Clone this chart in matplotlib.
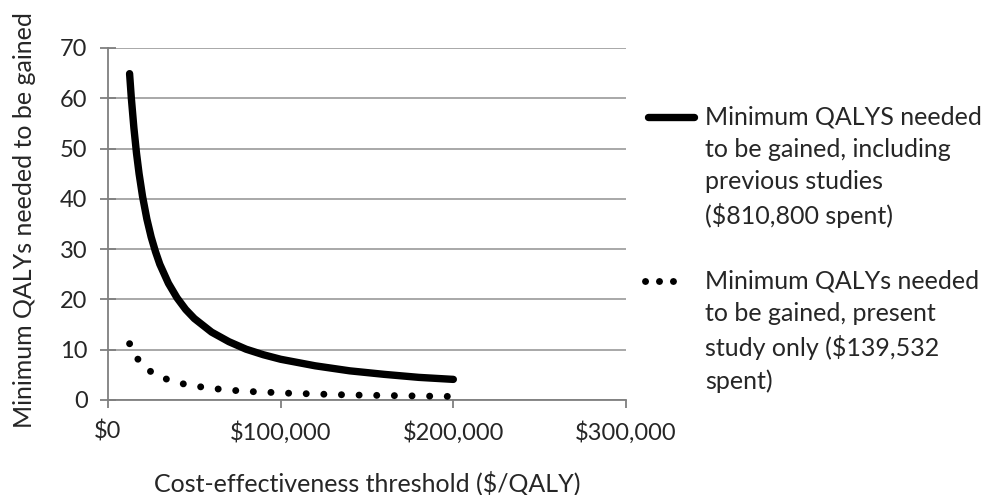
import matplotlib.pyplot as plt
from matplotlib.lines import Line2D
from matplotlib.ticker import StrMethodFormatter

# Valores (umbral en $/QALY)
thresholds = [12500, 13500, 15000, 16500, 18000, 20000, 22500, 25000, 27500, 30000,
              35000, 40000, 45000, 50000, 60000, 70000, 80000, 90000, 100000,
              120000, 140000, 160000, 180000, 200000]
qalys_previous = [64.9, 60.1, 54.1, 49.1, 45.0, 40.5, 36.0, 32.4, 29.5, 27.0,
                  23.2, 20.3, 18.0, 16.2, 13.5, 11.6, 10.1, 9.0, 8.1,
                  6.8, 5.8, 5.1, 4.5, 4.1]
qalys_present = [11.2, 10.3, 9.3, 8.5, 7.8, 7.0, 6.2, 5.6, 5.1, 4.7,
                 4.0, 3.5, 3.1, 2.8, 2.3, 2.0, 1.7, 1.6, 1.4,
                 1.2, 1.0, 0.9, 0.8, 0.7]

label_previous = "Minimum QALYS needed\nto be gained, including\nprevious studies\n($810,800 spent)"
label_present = "Minimum QALYs needed\nto be gained, present\nstudy only ($139,532\nspent)"
ylabel = "Minimum QALYs needed to be gained"
xlabel = "Cost-effectiveness threshold ($/QALY)"

plt.rcParams['font.family'] = ['Lato', 'DejaVu Sans']
text_color = '#262626'
axis_color = '#7f7f7f'

fig = plt.figure(figsize=(9.89, 4.95), dpi=100)
ax = fig.add_axes([108 / 989, 1 - 400 / 495, (626 - 108) / 989, (400 - 48) / 495])

ax.plot(thresholds, qalys_previous, color='black', lw=5.3, solid_capstyle='round', zorder=3)
ax.plot(thresholds, qalys_present, color='black', lw=5,
        linestyle=(0, (0.01, 2.53)), dash_capstyle='round', zorder=3)

ax.set_xlim(0, 300000)
ax.set_ylim(0, 70)
ax.set_xticks([0, 100000, 200000, 300000])
ax.set_yticks(range(0, 71, 10))
ax.xaxis.set_major_formatter(StrMethodFormatter('${x:,.0f}'))
ax.yaxis.grid(True, color='#9a9a9a', lw=1.2)
ax.set_axisbelow(True)

for s in ['top', 'right']:
    ax.spines[s].set_visible(False)
for s in ['left', 'bottom']:
    ax.spines[s].set_color(axis_color)
    ax.spines[s].set_linewidth(1.3)

ax.tick_params(axis='y', direction='inout', colors=axis_color, length=11.5, width=1.3,
               labelsize=17, labelcolor=text_color, pad=9)
ax.tick_params(axis='x', direction='out', colors=axis_color, length=6, width=1.3,
               labelsize=17, labelcolor=text_color, pad=9)

fig.text(25 / 989, 1 - 220 / 495, ylabel, rotation=90, ha='center', va='center',
         fontsize=18, color=text_color)
fig.text(367 / 989, 1 - 483 / 495, xlabel, ha='center', va='center',
         fontsize=18, color=text_color)

# Leyenda dibujada a mano (el simbolo alineado con la primera linea)
fig.add_artist(Line2D([648 / 989, 694 / 989], [1 - 117 / 495] * 2, color='black',
                      lw=5.3, solid_capstyle='round'))
fig.add_artist(Line2D([645 / 989, 674 / 989], [1 - 281 / 495] * 2, color='black',
                      lw=5, linestyle=(0, (0.01, 2.0)), dash_capstyle='round'))
fig.text(705 / 989, 1 - 106 / 495, label_previous, ha='left', va='top',
         fontsize=18, color=text_color, linespacing=1.48)
fig.text(705 / 989, 1 - 270 / 495, label_present, ha='left', va='top',
         fontsize=18, color=text_color, linespacing=1.48)

fig.savefig('out.png', dpi=100)
